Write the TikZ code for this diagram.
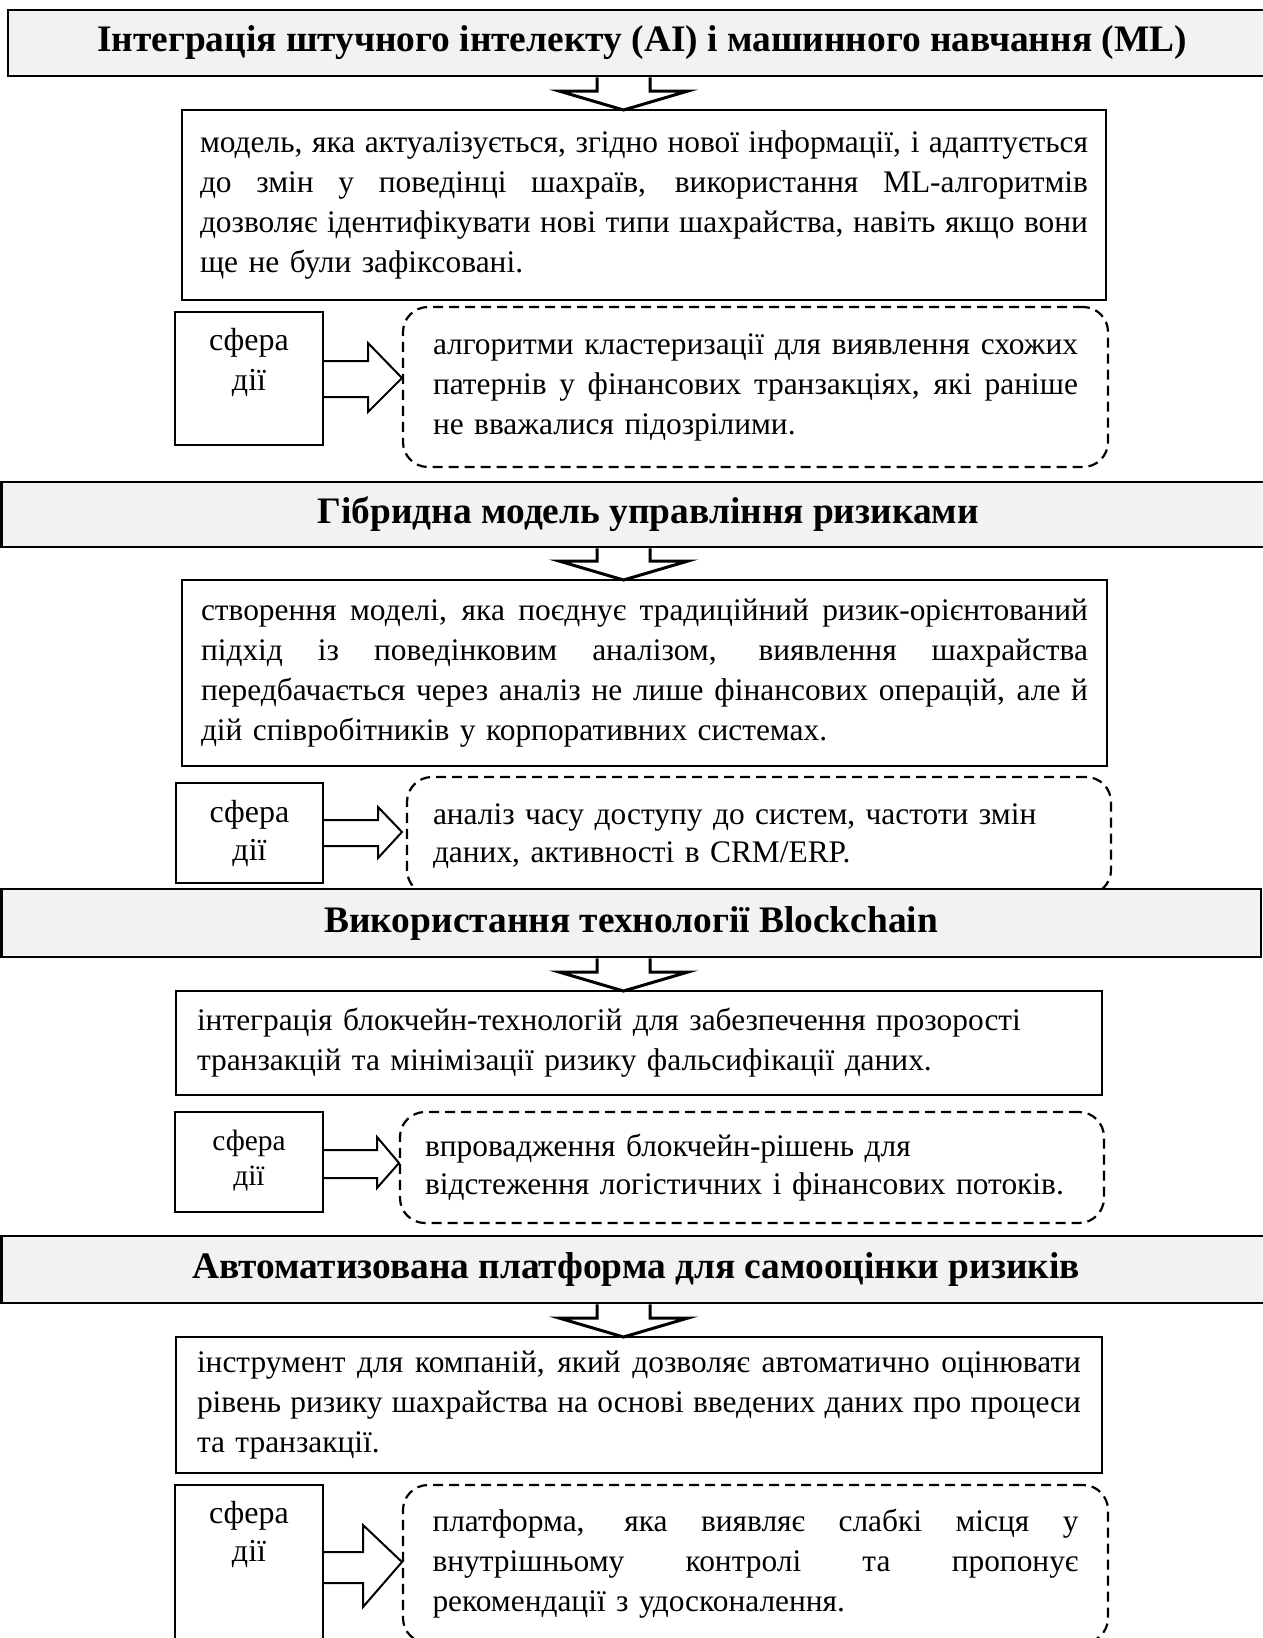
\documentclass[tikz,border=0pt]{standalone}
\usepackage{fontspec}
\setmainfont{Liberation Serif}
\usetikzlibrary{calc}
\definecolor{hdrgray}{HTML}{F2F2F2}
\setlength{\parindent}{0pt}
% a line set to a given width by stretching its spaces (justified line)
\newcommand\jline[2]{\leavevmode\hbox to #1{\spaceskip=0pt\xspaceskip=0pt #2}}
\newcommand\bodyfont{\fontsize{31.4}{40}\selectfont}
\newcommand\dtwofont{\fontsize{31.4}{37.5}\selectfont}
\newcommand\dthreefont{\fontsize{31.4}{38}\selectfont}
\newcommand\dfourfont{\fontsize{31.4}{40}\selectfont}
\newcommand\sferafont{\fontsize{32}{40}\selectfont}
\newcommand\sferamid{\fontsize{32}{38}\selectfont}
\newcommand\sferasmall{\fontsize{29.4}{35}\selectfont}
\newcommand\twolines[2]{\begin{tabular}[t]{@{}c@{}}#1\\#2\end{tabular}}

\tikzset{
  every node/.style={outer sep=0pt},
  hdr/.style={draw, line width=2.7pt, fill=hdrgray, anchor=north west, inner sep=0pt,
    font=\bfseries\fontsize{37.4}{42}\selectfont},
  cbox/.style={draw, line width=2pt, fill=white, anchor=north west, inner sep=0pt,
    font=\bodyfont},
  sbox/.style={draw, line width=2pt, fill=white, anchor=north west, inner sep=0pt},
  slabel/.style={anchor=base, inner sep=0pt},
  dbox/.style={draw, line width=2.2pt, dash pattern=on 10pt off 6pt, rounded corners=25pt,
    fill=white, anchor=north west, inner sep=0pt},
  harrow/.style={draw, line width=3pt, fill=white},
  sarrow/.style={draw, line width=2pt, fill=white},
}

% block arrow from a heading down to its box
\newcommand\downblock[2]{%
  \filldraw[harrow] ($(#1.south -| ax1)+(0,1.4)$) -- ($(#2.north -| ax1)+(0,-19)$)
    -- ($(#2.north -| ax1)+(-38,-19)$) -- (#2.north -| axt)
    -- ($(#2.north -| ax2)+(38,-19)$) -- ($(#2.north -| ax2)+(0,-19)$)
    -- ($(#1.south -| ax2)+(0,1.4)$);}

\begin{document}
\begin{tikzpicture}[x=1pt,y=-1pt]
\useasboundingbox (0,0) rectangle (1263,1638);
\coordinate (ax1) at (597,0);
\coordinate (axt) at (623.5,0);
\coordinate (ax2) at (650,0);

% ---------------- section 1 ----------------
\node[hdr, minimum width=1268pt, minimum height=66pt] (h1) at (8,10)
  {Інтеграція штучного інтелекту (AI) і машинного навчання (ML)};
\node[cbox, minimum width=924pt, minimum height=190pt, text width=888pt] (c1) at (182,110)
  {\jline{888pt}{модель, яка актуалізується, згідно нової інформації, і адаптується}\\
   \jline{888pt}{до змін у поведінці шахраїв, використання ML-алгоритмів}\\
   \jline{888pt}{дозволяє ідентифікувати нові типи шахрайства, навіть якщо вони}\\
   ще не були зафіксовані.};
\downblock{h1}{c1}
\node[dbox, minimum width=705pt, minimum height=160pt, text width=645pt, font=\bodyfont] (d1) at (403,307)
  {\jline{645pt}{алгоритми кластеризації для виявлення схожих}\\
   \jline{645pt}{патернів у фінансових транзакціях, які раніше}\\
   не вважалися підозрілими.};
\node[sbox, minimum width=148pt, minimum height=133pt] (s1) at (175,312) {};
\node[slabel, font=\sferafont] (s1t) at ([yshift=-38pt]s1.north) {\twolines{сфера}{дії}};
\filldraw[sarrow] ([xshift=1pt,yshift=-49pt]s1.north east) -- ([xshift=45pt,yshift=-49pt]s1.north east)
  -- ([xshift=45pt,yshift=-31pt]s1.north east) -- ([xshift=-1pt,yshift=-71pt]d1.north west)
  -- ([xshift=45pt,yshift=-100pt]s1.north east) -- ([xshift=45pt,yshift=-85pt]s1.north east)
  -- ([xshift=1pt,yshift=-85pt]s1.north east);

% ---------------- section 2 ----------------
\node[hdr, minimum width=1293.5pt, minimum height=65pt] (h2) at (1.5,482)
  {Гібридна модель управління ризиками};
\node[cbox, minimum width=925pt, minimum height=186pt, text width=887pt] (c2) at (182,580)
  {\jline{887pt}{створення моделі, яка поєднує традиційний ризик-орієнтований}\\
   \jline{887pt}{підхід із поведінковим аналізом, виявлення шахрайства}\\
   \jline{887pt}{передбачається через аналіз не лише фінансових операцій, але й}\\
   дій співробітників у корпоративних системах.};
\downblock{h2}{c2}
\node[dbox, minimum width=704pt, minimum height=118pt, text width=652pt, font=\dtwofont] (d2) at (407,777)
  {аналіз часу доступу до систем, частоти змін\\
   даних, активності в CRM/ERP.};
\node[sbox, minimum width=147pt, minimum height=100pt] (s2) at (176,783) {};
\node[slabel, font=\sferamid] (s2t) at ([yshift=-39pt]s2.north) {\twolines{сфера}{дії}};
\filldraw[sarrow] ([xshift=1pt,yshift=-37pt]s2.north east) -- ([xshift=55pt,yshift=-37pt]s2.north east)
  -- ([xshift=55pt,yshift=-24pt]s2.north east) -- ([xshift=-5pt,yshift=-55pt]d2.north west)
  -- ([xshift=55pt,yshift=-75pt]s2.north east) -- ([xshift=55pt,yshift=-63pt]s2.north east)
  -- ([xshift=1pt,yshift=-63pt]s2.north east);

% ---------------- section 3 ----------------
\node[hdr, minimum width=1259.5pt, minimum height=68pt] (h3) at (1.5,889)
  {Використання технології Blockchain};
\node[cbox, minimum width=926pt, minimum height=104pt, text width=884pt] (c3) at (176,991)
  {інтеграція блокчейн-технологій для забезпечення прозорості\\
   транзакцій та мінімізації ризику фальсифікації даних.};
\downblock{h3}{c3}
\node[dbox, minimum width=704pt, minimum height=111pt, text width=654pt, font=\dthreefont] (d3) at (400,1112)
  {впровадження блокчейн-рішень для\\
   відстеження логістичних і фінансових потоків.};
\node[sbox, minimum width=148pt, minimum height=100pt] (s3) at (175,1112) {};
\node[slabel, font=\sferasmall] (s3t) at ([yshift=-38pt]s3.north) {\twolines{сфера}{дії}};
\filldraw[sarrow] ([xshift=1pt,yshift=-38pt]s3.north east) -- ([xshift=54pt,yshift=-38pt]s3.north east)
  -- ([xshift=54pt,yshift=-25pt]s3.north east) -- ([xshift=-1pt,yshift=-51pt]d3.north west)
  -- ([xshift=54pt,yshift=-76pt]s3.north east) -- ([xshift=54pt,yshift=-66pt]s3.north east)
  -- ([xshift=1pt,yshift=-66pt]s3.north east);

% ---------------- section 4 ----------------
\node[hdr, minimum width=1269.5pt, minimum height=67pt] (h4) at (1.5,1236)
  {Автоматизована платформа для самооцінки ризиків};
\node[cbox, minimum width=926pt, minimum height=136pt, text width=884pt] (c4) at (176,1337)
  {\jline{884pt}{інструмент для компаній, який дозволяє автоматично оцінювати}\\
   \jline{884pt}{рівень ризику шахрайства на основі введених даних про процеси}\\
   та транзакції.};
\downblock{h4}{c4}
\node[dbox, minimum width=705pt, minimum height=158pt, text width=646pt, font=\dfourfont] (d4) at (403,1485)
  {\jline{646pt}{платформа, яка виявляє слабкі місця у}\\
   \jline{646pt}{внутрішньому контролі та пропонує}\\
   рекомендації з удосконалення.};
\node[sbox, minimum width=148pt, minimum height=175pt] (s4) at (175,1485) {};
\node[slabel, font=\sferamid] (s4t) at ([yshift=-38pt]s4.north) {\twolines{сфера}{дії}};
\filldraw[sarrow] ([xshift=1pt,yshift=-67pt]s4.north east) -- ([xshift=40pt,yshift=-67pt]s4.north east)
  -- ([xshift=40pt,yshift=-40pt]s4.north east) -- ([xshift=-1pt,yshift=-77pt]d4.north west)
  -- ([xshift=40pt,yshift=-122pt]s4.north east) -- ([xshift=40pt,yshift=-98pt]s4.north east)
  -- ([xshift=1pt,yshift=-98pt]s4.north east);
\end{tikzpicture}
\end{document}
